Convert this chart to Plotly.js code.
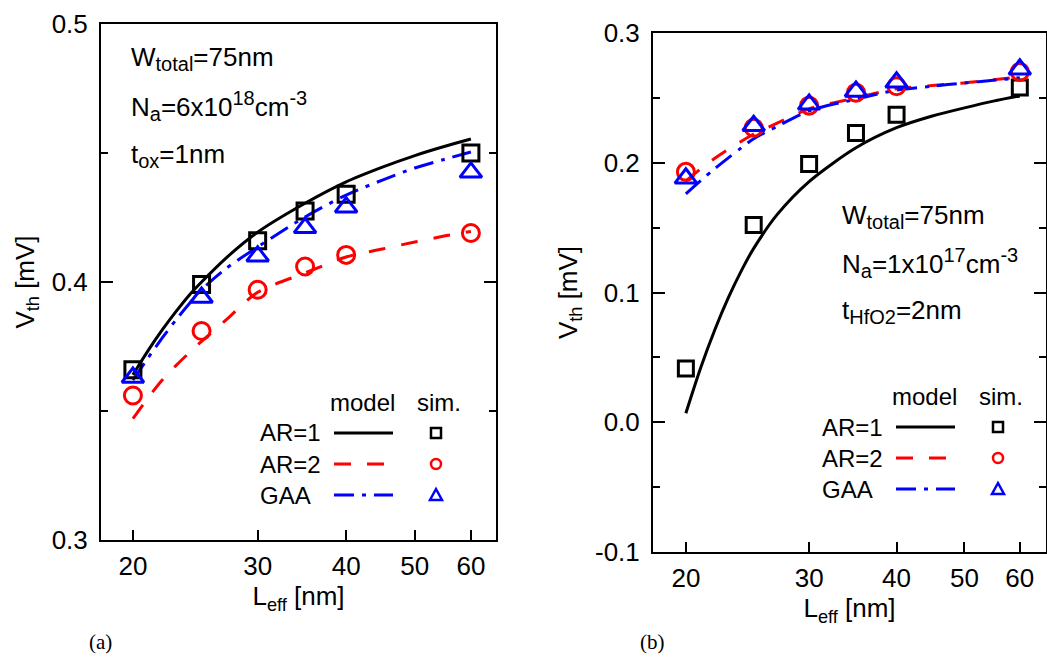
<!DOCTYPE html>
<html>
<head>
<meta charset="utf-8">
<script src="https://cdn.plot.ly/plotly-3.0.1.min.js"></script>
<style>html,body{margin:0;padding:0;background:#fff;}#chart{width:1047px;height:660px;}</style>
</head>
<body>
<div id="chart"></div>
<script>
// ---------------- data ----------------
const L_sim   = [20, 25, 30, 35, 40, 60];
const L_model = [20, 21, 22, 23, 24, 25, 27, 30, 35, 40, 45, 50, 55, 60];

// panel (a)
const a_sim_AR1 = [0.366, 0.399, 0.416, 0.4275, 0.434, 0.450];
const a_sim_AR2 = [0.356, 0.381, 0.397, 0.406, 0.4105, 0.419];
const a_sim_GAA = [0.363, 0.394, 0.410, 0.421, 0.429, 0.4425];
const a_mod_AR1 = [0.364, 0.3733, 0.3814, 0.3885, 0.3948, 0.4000, 0.409, 0.4193, 0.4305, 0.4388, 0.4445, 0.4490, 0.4525, 0.4554];
const a_mod_AR2 = [0.347, 0.355, 0.362, 0.3676, 0.3725, 0.377, 0.385, 0.396, 0.4035, 0.4097, 0.4128, 0.4155, 0.4178, 0.4196];
const a_mod_GAA = [0.362, 0.3705, 0.3783, 0.3853, 0.3915, 0.397, 0.405, 0.4136, 0.4252, 0.4337, 0.4395, 0.4442, 0.4475, 0.4504];

// panel (b)
const b_sim_AR1 = [0.0415, 0.152, 0.199, 0.223, 0.237, 0.258];
const b_sim_AR2 = [0.193, 0.227, 0.244, 0.254, 0.259, 0.270];
const b_sim_GAA = [0.188, 0.2285, 0.245, 0.255, 0.262, 0.272];
const b_mod_AR1 = [0.007, 0.042, 0.0713, 0.096, 0.1167, 0.134, 0.160, 0.1855, 0.2115, 0.227, 0.236, 0.2423, 0.2475, 0.2515];
const b_mod_AR2 = [0.186, 0.1953, 0.2035, 0.2105, 0.2165, 0.222, 0.2305, 0.2415, 0.250, 0.257, 0.2595, 0.2615, 0.264, 0.266];
const b_mod_GAA = [0.176, 0.1862, 0.1955, 0.2038, 0.2115, 0.2185, 0.228, 0.240, 0.249, 0.256, 0.259, 0.2615, 0.2635, 0.2655];

const xTicks  = [20, 30, 40, 50, 60];
const aYTicks = [0.3, 0.4, 0.5];
const bYTicks = [-0.1, 0.0, 0.1, 0.2, 0.3];
const seriesNames = ['AR=1', 'AR=2', 'GAA'];

// ---------------- styles ----------------
const FONT = 'Liberation Sans, Arial, Helvetica, sans-serif';
const BLACK = '#000000', RED = '#ff0000', BLUE = '#0000ff';
const W = 1047, H = 660;
const px = x => x / W;
const py = y => 1 - y / H;

const DASH = '17px,16px';
const DASHDOT = '20px,8px,4px,8px';

function modelTrace(x, y, color, dash, xa, ya) {
  return {x: x, y: y, xaxis: xa, yaxis: ya, type: 'scatter', mode: 'lines',
          line: {color: color, width: 3, dash: dash, shape: 'spline', smoothing: 0.8},
          showlegend: false, hoverinfo: 'skip'};
}
function simTrace(x, y, color, symbol, size, xa, ya) {
  return {x: x, y: y, xaxis: xa, yaxis: ya, type: 'scatter', mode: 'markers',
          marker: {symbol: symbol, size: size, color: color, line: {color: color, width: 3}},
          showlegend: false, hoverinfo: 'skip'};
}

const traces = [
  modelTrace(L_model, a_mod_AR2, RED, DASH, 'x', 'y'),
  modelTrace(L_model, a_mod_GAA, BLUE, DASHDOT, 'x', 'y'),
  modelTrace(L_model, a_mod_AR1, BLACK, 'solid', 'x', 'y'),
  simTrace(L_sim, a_sim_AR2, RED, 'circle-open', 17, 'x', 'y'),
  simTrace(L_sim, a_sim_AR1, BLACK, 'square-open', 16, 'x', 'y'),
  simTrace(L_sim, a_sim_GAA, BLUE, 'triangle-up-open', 19, 'x', 'y'),

  modelTrace(L_model, b_mod_AR1, BLACK, 'solid', 'x2', 'y2'),
  modelTrace(L_model, b_mod_AR2, RED, DASH, 'x2', 'y2'),
  modelTrace(L_model, b_mod_GAA, BLUE, DASHDOT, 'x2', 'y2'),
  simTrace(L_sim, b_sim_AR1, BLACK, 'square-open', 15, 'x2', 'y2'),
  simTrace(L_sim, b_sim_AR2, RED, 'circle-open', 17, 'x2', 'y2'),
  simTrace(L_sim, b_sim_GAA, BLUE, 'triangle-up-open', 19, 'x2', 'y2')
];

function xAxis(domain, range, anchor) {
  return {
    type: 'log', domain: domain, range: range, anchor: anchor,
    tickvals: xTicks, ticktext: xTicks.map(String),
    ticks: 'inside', ticklen: 10, tickwidth: 2, tickcolor: BLACK,
    showline: true, linecolor: BLACK, linewidth: 2, mirror: true,
    showgrid: false, zeroline: false,
    tickfont: {family: FONT, size: 26, color: BLACK},
    ticklabelstandoff: 2,
    title: {text: 'L<sub>eff</sub> [nm]', font: {family: FONT, size: 26, color: BLACK}, standoff: 2},
    automargin: false, fixedrange: true
  };
}
function yAxis(domain, range, tickvals, minorvals, anchor) {
  return {
    domain: domain, range: range, anchor: anchor,
    tickvals: tickvals, ticktext: tickvals.map(v => v.toFixed(1)),
    ticks: 'inside', ticklen: 12, tickwidth: 2, tickcolor: BLACK,
    minor: {tickvals: minorvals, ticks: 'inside', ticklen: 7, tickwidth: 2, tickcolor: BLACK},
    showline: true, linecolor: BLACK, linewidth: 2, mirror: 'ticks',
    showgrid: false, zeroline: false,
    tickfont: {family: FONT, size: 26, color: BLACK},
    ticklabelstandoff: 6,
    title: {text: 'V<sub>th</sub> [mV]', font: {family: FONT, size: 26, color: BLACK}, standoff: 10},
    automargin: false, fixedrange: true
  };
}

const annotations = [];
const shapes = [];
function txt(text, x, y, size, xanchor, family) {
  annotations.push({text: text, x: px(x), y: py(y), xref: 'paper', yref: 'paper',
    xanchor: xanchor || 'left', yanchor: 'middle', showarrow: false,
    font: {family: family || FONT, size: size, color: BLACK}});
}
const sub = s => '<sub><span style="font-size:20px">' + s + '</span></sub>';
const sup = s => '<sup><span style="font-size:20px">' + s + '</span></sup>';

// panel (a) parameter text
txt('W' + sub('total') + '=75nm', 129, 58, 26);
txt('N' + sub('a') + '=6x10' + sup('18') + 'cm' + sup('-3'), 129, 106, 26);
txt('t' + sub('ox') + '=1nm', 129, 155, 26);
// panel (b) parameter text
txt('W' + sub('total') + '=75nm', 840, 216, 26);
txt('N' + sub('a') + '=1x10' + sup('17') + 'cm' + sup('-3'), 840, 263, 26);
txt('t' + sub('HfO2') + '=2nm', 840, 312, 26);

txt('(a)', 100, 642, 21, 'center', 'Liberation Serif, Times New Roman, serif');
txt('(b)', 652, 642, 21, 'center', 'Liberation Serif, Times New Roman, serif');

// custom legends
function legend(x0, yHead, rowYs) {
  txt('model', x0 + 70, yHead, 24, 'left');
  txt('sim.', x0 + 157, yHead, 24, 'left');
  const colors = [BLACK, RED, BLUE];
  for (let i = 0; i < 3; i++) {
    const y = rowYs[i];
    txt(seriesNames[i], x0, y, 24, 'left');
    const lx0 = x0 + 76, lx1 = x0 + 135;
    const ld = i === 0 ? 'solid' : (i === 1 ? DASH : DASHDOT);
    shapes.push({type: 'line', xref: 'paper', yref: 'paper', x0: px(lx0), x1: px(lx1), y0: py(y), y1: py(y),
                 line: {color: colors[i], width: 3, dash: ld}});
    const mx = x0 + 178, r = 5;
    if (i === 0) {
      shapes.push({type: 'rect', xref: 'paper', yref: 'paper', x0: px(mx - r), x1: px(mx + r), y0: py(y + r), y1: py(y - r),
                   line: {color: BLACK, width: 2.5}});
    } else if (i === 1) {
      shapes.push({type: 'circle', xref: 'paper', yref: 'paper', x0: px(mx - r), x1: px(mx + r), y0: py(y + r), y1: py(y - r),
                   line: {color: RED, width: 2.5}});
    } else {
      const p = `M ${px(mx - 6)} ${py(y + 5)} L ${px(mx + 6)} ${py(y + 5)} L ${px(mx)} ${py(y - 6)} Z`;
      shapes.push({type: 'path', xref: 'paper', yref: 'paper', path: p, line: {color: BLUE, width: 2.5}});
    }
  }
}
legend(258, 402, [433, 464, 495]);
legend(820, 396, [427, 458, 489]);

const layout = {
  width: W, height: H,
  margin: {l: 0, r: 0, t: 0, b: 0},
  paper_bgcolor: '#ffffff', plot_bgcolor: '#ffffff',
  showlegend: false,
  font: {family: FONT, color: BLACK},
  xaxis: xAxis([px(101), px(496)], [Math.log10(18.03), Math.log10(65.1)], 'y'),
  yaxis: yAxis([py(540), py(24)], [0.3, 0.5], aYTicks, [0.35, 0.45], 'x'),
  xaxis2: xAxis([px(653), px(1046)], [Math.log10(17.95), Math.log10(65.4)], 'y2'),
  yaxis2: yAxis([py(552), py(33)], [-0.1, 0.3], bYTicks, [-0.05, 0.05, 0.15, 0.25], 'x2'),
  annotations: annotations,
  shapes: shapes
};

Plotly.newPlot('chart', traces, layout, {staticPlot: true, displayModeBar: false});
</script>
</body>
</html>
